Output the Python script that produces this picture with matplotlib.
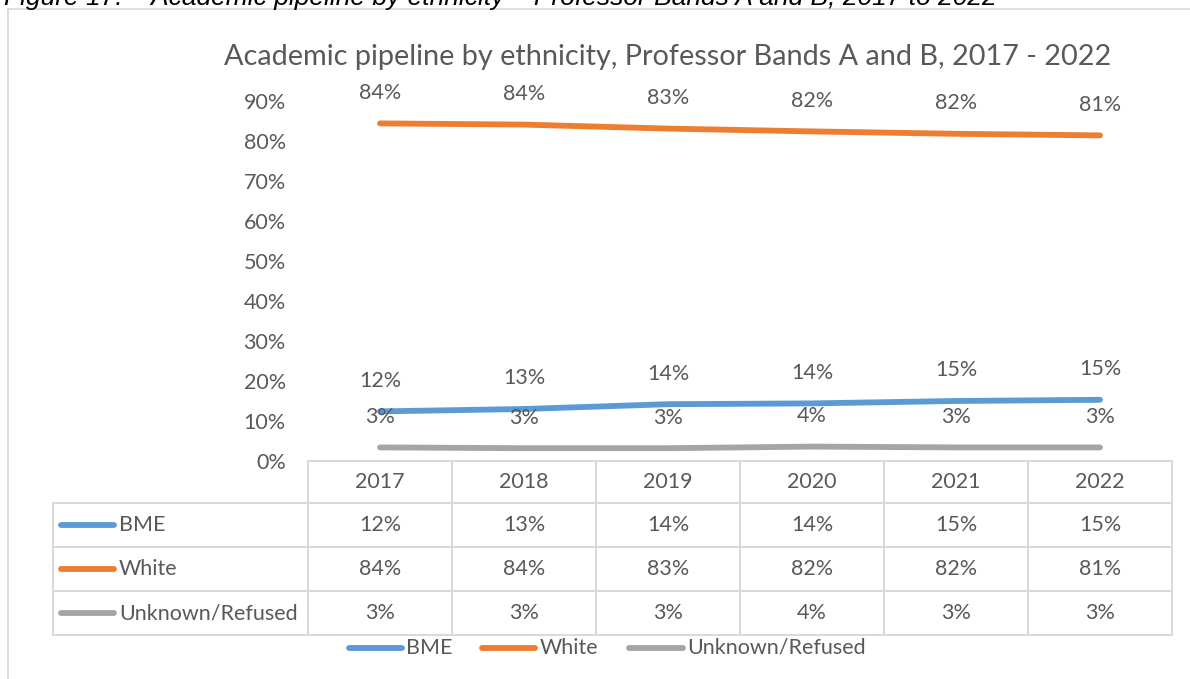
import matplotlib
matplotlib.use("Agg")
import matplotlib.pyplot as plt
from matplotlib.lines import Line2D
from matplotlib.transforms import blended_transform_factory

# ---- data ----
years = ["2017", "2018", "2019", "2020", "2021", "2022"]
series_names = ["BME", "White", "Unknown/Refused"]
bme = [12.4, 13.0, 14.2, 14.4, 15.0, 15.3]
white = [84.4, 84.1, 83.1, 82.4, 81.8, 81.4]
unknown = [3.4, 3.2, 3.2, 3.6, 3.4, 3.4]
yticks = [0, 10, 20, 30, 40, 50, 60, 70, 80, 90]
title = "Academic pipeline by ethnicity, Professor Bands A and B, 2017 - 2022"
caption = "Figure 17: – Academic pipeline by ethnicity – Professor Bands A and B, 2017 to 2022"

colors = ["#5B9BD5", "#ED7D31", "#A5A5A5"]
txt = "#595959"
grid = "#D9D9D9"
FONT = "Lato"
FS = 15.5

W, H = 1190, 679
fig = plt.figure(figsize=(W / 100, H / 100), dpi=100)
fig.patch.set_facecolor("white")

def fx(px):
    return px / W

def fy(py):
    return 1 - py / H

# outer chart frame (partially visible)
fig.add_artist(Line2D([fx(8), fx(8)], [fy(9), fy(H + 5)], color=grid, lw=1.2))
fig.add_artist(Line2D([fx(8), fx(W + 5)], [fy(9), fy(9)], color=grid, lw=1.2))

# caption (cut off at top)
fig.text(fx(4), fy(5), caption, fontsize=19, style="italic",
         family="Liberation Sans", color="black", ha="left", va="baseline")

# title
fig.text(fx(668), fy(57), title, fontsize=20.8, family=FONT, color=txt,
         ha="center", va="center")

ax = fig.add_axes([fx(308), fy(461), fx(1172) - fx(308), (461 - 101) / H])
ax.set_xlim(-0.5, len(years) - 0.5)
ax.set_ylim(0, 90)
for s in ax.spines.values():
    s.set_visible(False)
ax.set_xticks([])
ax.set_yticks(yticks)
ax.set_yticklabels([f"{t}%" for t in yticks], fontsize=FS, family=FONT, color=txt)
ax.tick_params(axis="y", length=0, pad=16)

x = list(range(len(years)))
all_series = [bme, white, unknown]
for vals, c in zip(all_series, colors):
    ax.plot(x, vals, color=c, lw=4.2, solid_capstyle="round", solid_joinstyle="round",
            clip_on=False)
    for xi, v in zip(x, vals):
        ax.annotate(f"{round(v)}%", (xi, v), xytext=(0, 22), textcoords="offset points",
                    ha="center", va="center", fontsize=FS, family=FONT, color=txt,
                    annotation_clip=False)

# ---- data table ----
bt = blended_transform_factory(ax.transData, fig.transFigure)
row_edges = [461, 503, 547, 591, 635]
lw_t = 1.4
ax.add_line(Line2D([-0.5, len(years) - 0.5], [fy(461), fy(461)], transform=bt,
                   color=grid, lw=lw_t, clip_on=False))
for ry in row_edges[1:]:
    fig.add_artist(Line2D([fx(53), fx(308)], [fy(ry), fy(ry)], color=grid, lw=lw_t))
    ax.add_line(Line2D([-0.5, len(years) - 0.5], [fy(ry), fy(ry)], transform=bt,
                       color=grid, lw=lw_t, clip_on=False))
fig.add_artist(Line2D([fx(53), fx(53)], [fy(503), fy(635)], color=grid, lw=lw_t))
for i in range(len(years) + 1):
    ax.add_line(Line2D([i - 0.5, i - 0.5], [fy(461), fy(635)], transform=bt,
                       color=grid, lw=lw_t, clip_on=False))

hdr_y = (461 + 503) / 2
for i, yr in enumerate(years):
    ax.text(i, fy(hdr_y), yr, transform=bt, ha="center", va="center",
            fontsize=FS, family=FONT, color=txt)
for r, (name, vals, c) in enumerate(zip(series_names, all_series, colors)):
    cy = (row_edges[r + 1] + row_edges[r + 2]) / 2
    fig.add_artist(Line2D([fx(61), fx(114)], [fy(cy), fy(cy)], color=c, lw=4.2,
                          solid_capstyle="round"))
    fig.text(fx(119), fy(cy), name, ha="left", va="center", fontsize=FS,
             family=FONT, color=txt)
    for i, v in enumerate(vals):
        ax.text(i, fy(cy), f"{round(v)}%", transform=bt, ha="center", va="center",
                fontsize=FS, family=FONT, color=txt)

# ---- bottom legend ----
leg_y = 648
leg_x = [(349, 402, 406), (482, 535, 540), (629, 683, 687)]
for (x0, x1, tx), name, c in zip(leg_x, series_names, colors):
    fig.add_artist(Line2D([fx(x0), fx(x1)], [fy(leg_y), fy(leg_y)], color=c, lw=4.2,
                          solid_capstyle="round"))
    fig.text(fx(tx), fy(leg_y), name, ha="left", va="center", fontsize=FS,
             family=FONT, color=txt)

fig.savefig("out.png", dpi=100, facecolor="white")
